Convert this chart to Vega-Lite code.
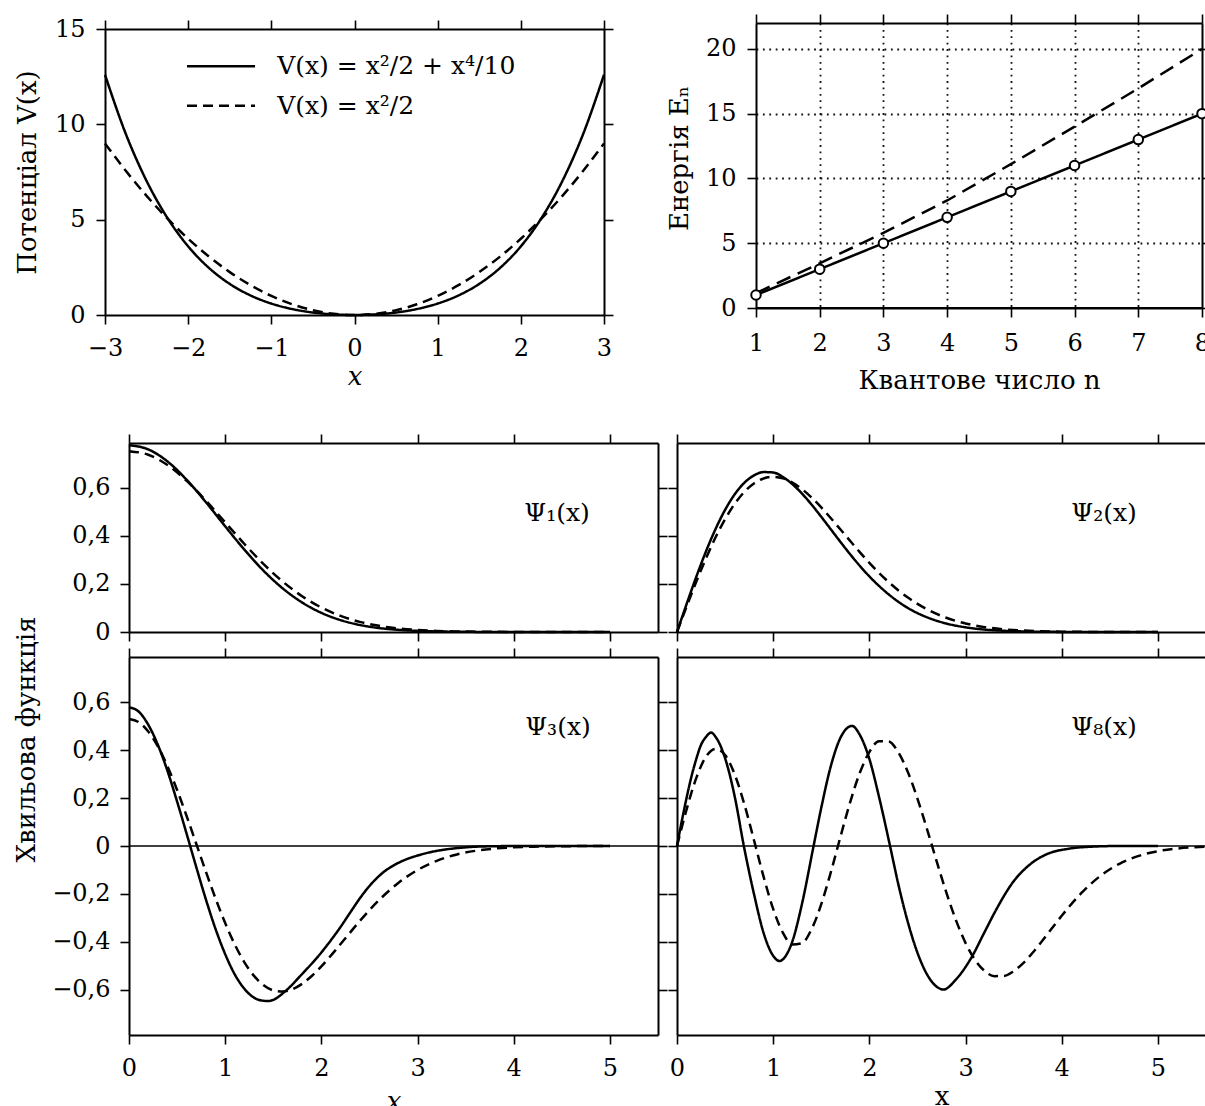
{
  "$schema": "https://vega.github.io/schema/vega-lite/v6.json",
  "padding": 0,
  "autosize": {"type": "pad"},
  "background": "white",
  "datasets": {
    "pot": [
      {"x": -3, "V": 12.6, "m": "a"}, {"x": -2.75, "V": 9.5004, "m": "a"}, {"x": -2.5, "V": 7.0313, "m": "a"}, {"x": -2.25, "V": 5.0941, "m": "a"}, {"x": -2, "V": 3.6, "m": "a"}, {"x": -1.75, "V": 2.4691, "m": "a"}, {"x": -1.5, "V": 1.6313, "m": "a"}, {"x": -1.25, "V": 1.0254, "m": "a"}, {"x": -1, "V": 0.6, "m": "a"}, {"x": -0.75, "V": 0.3129, "m": "a"}, {"x": -0.5, "V": 0.1313, "m": "a"}, {"x": -0.25, "V": 0.0316, "m": "a"}, {"x": 0, "V": 0, "m": "a"}, {"x": 0.25, "V": 0.0316, "m": "a"}, {"x": 0.5, "V": 0.1313, "m": "a"}, {"x": 0.75, "V": 0.3129, "m": "a"}, {"x": 1, "V": 0.6, "m": "a"}, {"x": 1.25, "V": 1.0254, "m": "a"}, {"x": 1.5, "V": 1.6313, "m": "a"}, {"x": 1.75, "V": 2.4691, "m": "a"}, {"x": 2, "V": 3.6, "m": "a"}, {"x": 2.25, "V": 5.0941, "m": "a"}, {"x": 2.5, "V": 7.0313, "m": "a"}, {"x": 2.75, "V": 9.5004, "m": "a"}, {"x": 3, "V": 12.6, "m": "a"},
      {"x": -3, "V": 9, "m": "h"}, {"x": -2.75, "V": 7.5625, "m": "h"}, {"x": -2.5, "V": 6.25, "m": "h"}, {"x": -2.25, "V": 5.0625, "m": "h"}, {"x": -2, "V": 4, "m": "h"}, {"x": -1.75, "V": 3.0625, "m": "h"}, {"x": -1.5, "V": 2.25, "m": "h"}, {"x": -1.25, "V": 1.5625, "m": "h"}, {"x": -1, "V": 1, "m": "h"}, {"x": -0.75, "V": 0.5625, "m": "h"}, {"x": -0.5, "V": 0.25, "m": "h"}, {"x": -0.25, "V": 0.0625, "m": "h"}, {"x": 0, "V": 0, "m": "h"}, {"x": 0.25, "V": 0.0625, "m": "h"}, {"x": 0.5, "V": 0.25, "m": "h"}, {"x": 0.75, "V": 0.5625, "m": "h"}, {"x": 1, "V": 1, "m": "h"}, {"x": 1.25, "V": 1.5625, "m": "h"}, {"x": 1.5, "V": 2.25, "m": "h"}, {"x": 1.75, "V": 3.0625, "m": "h"}, {"x": 2, "V": 4, "m": "h"}, {"x": 2.25, "V": 5.0625, "m": "h"}, {"x": 2.5, "V": 6.25, "m": "h"}, {"x": 2.75, "V": 7.5625, "m": "h"}, {"x": 3, "V": 9, "m": "h"}
    ],
    "energy": [
      {"n": 1, "E": 1, "m": "h"}, {"n": 2, "E": 3, "m": "h"}, {"n": 3, "E": 5, "m": "h"}, {"n": 4, "E": 7, "m": "h"}, {"n": 5, "E": 9, "m": "h"}, {"n": 6, "E": 11, "m": "h"}, {"n": 7, "E": 13, "m": "h"}, {"n": 8, "E": 15, "m": "h"},
      {"n": 1, "E": 1.15, "m": "a"}, {"n": 2, "E": 3.45, "m": "a"}, {"n": 3, "E": 5.8, "m": "a"}, {"n": 4, "E": 8.3, "m": "a"}, {"n": 5, "E": 11.1, "m": "a"}, {"n": 6, "E": 14.0, "m": "a"}, {"n": 7, "E": 16.95, "m": "a"}, {"n": 8, "E": 20, "m": "a"}
    ],
    "psi1": [
      {"x": 0, "y": 0.776, "m": "a"}, {"x": 0.2, "y": 0.7585, "m": "a"}, {"x": 0.4, "y": 0.7084, "m": "a"}, {"x": 0.6, "y": 0.6321, "m": "a"}, {"x": 0.8, "y": 0.5389, "m": "a"}, {"x": 1, "y": 0.4391, "m": "a"}, {"x": 1.2, "y": 0.3418, "m": "a"}, {"x": 1.4, "y": 0.2541, "m": "a"}, {"x": 1.6, "y": 0.1806, "m": "a"}, {"x": 1.8, "y": 0.1226, "m": "a"}, {"x": 2, "y": 0.0795, "m": "a"}, {"x": 2.2, "y": 0.0493, "m": "a"}, {"x": 2.4, "y": 0.0292, "m": "a"}, {"x": 2.6, "y": 0.0165, "m": "a"}, {"x": 2.8, "y": 0.0089, "m": "a"}, {"x": 3, "y": 0.0046, "m": "a"}, {"x": 3.2, "y": 0.0023, "m": "a"}, {"x": 3.4, "y": 0.0011, "m": "a"}, {"x": 3.6, "y": 0.0005, "m": "a"}, {"x": 4, "y": 0.0001, "m": "a"}, {"x": 4.5, "y": 0, "m": "a"}, {"x": 5, "y": 0, "m": "a"},
      {"x": 0, "y": 0.7511, "m": "h"}, {"x": 0.2, "y": 0.7362, "m": "h"}, {"x": 0.4, "y": 0.6934, "m": "h"}, {"x": 0.6, "y": 0.6274, "m": "h"}, {"x": 0.8, "y": 0.5454, "m": "h"}, {"x": 1, "y": 0.4556, "m": "h"}, {"x": 1.2, "y": 0.3656, "m": "h"}, {"x": 1.4, "y": 0.2819, "m": "h"}, {"x": 1.6, "y": 0.2088, "m": "h"}, {"x": 1.8, "y": 0.1486, "m": "h"}, {"x": 2, "y": 0.1016, "m": "h"}, {"x": 2.2, "y": 0.0668, "m": "h"}, {"x": 2.4, "y": 0.0422, "m": "h"}, {"x": 2.6, "y": 0.0256, "m": "h"}, {"x": 2.8, "y": 0.0149, "m": "h"}, {"x": 3, "y": 0.0083, "m": "h"}, {"x": 3.2, "y": 0.0045, "m": "h"}, {"x": 3.4, "y": 0.0023, "m": "h"}, {"x": 3.6, "y": 0.0012, "m": "h"}, {"x": 3.8, "y": 0.0006, "m": "h"}, {"x": 4, "y": 0.0003, "m": "h"}, {"x": 4.5, "y": 0, "m": "h"}, {"x": 5, "y": 0, "m": "h"}
    ],
    "psi2": [
      {"x": 0, "y": 0, "m": "a"}, {"x": 0.1, "y": 0.1163, "m": "a"}, {"x": 0.2, "y": 0.2287, "m": "a"}, {"x": 0.3, "y": 0.3334, "m": "a"}, {"x": 0.4, "y": 0.4271, "m": "a"}, {"x": 0.5, "y": 0.5073, "m": "a"}, {"x": 0.6, "y": 0.5719, "m": "a"}, {"x": 0.7, "y": 0.6196, "m": "a"}, {"x": 0.8, "y": 0.6503, "m": "a"}, {"x": 0.9, "y": 0.6642, "m": "a"}, {"x": 1, "y": 0.6625, "m": "a"}, {"x": 1.1, "y": 0.6441, "m": "a"}, {"x": 1.2, "y": 0.614, "m": "a"}, {"x": 1.3, "y": 0.5747, "m": "a"}, {"x": 1.4, "y": 0.5288, "m": "a"}, {"x": 1.5, "y": 0.4784, "m": "a"}, {"x": 1.6, "y": 0.4261, "m": "a"}, {"x": 1.7, "y": 0.3737, "m": "a"}, {"x": 1.8, "y": 0.323, "m": "a"}, {"x": 1.9, "y": 0.275, "m": "a"}, {"x": 2, "y": 0.2311, "m": "a"}, {"x": 2.2, "y": 0.1565, "m": "a"}, {"x": 2.4, "y": 0.0998, "m": "a"}, {"x": 2.6, "y": 0.061, "m": "a"}, {"x": 2.8, "y": 0.0353, "m": "a"}, {"x": 3, "y": 0.0194, "m": "a"}, {"x": 3.2, "y": 0.0101, "m": "a"}, {"x": 3.4, "y": 0.0051, "m": "a"}, {"x": 3.6, "y": 0.0024, "m": "a"}, {"x": 3.8, "y": 0.0011, "m": "a"}, {"x": 4, "y": 0.0004, "m": "a"}, {"x": 4.5, "y": 0, "m": "a"}, {"x": 5, "y": 0, "m": "a"},
      {"x": 0, "y": 0, "m": "h"}, {"x": 0.1, "y": 0.1057, "m": "h"}, {"x": 0.2, "y": 0.2083, "m": "h"}, {"x": 0.3, "y": 0.3047, "m": "h"}, {"x": 0.4, "y": 0.3922, "m": "h"}, {"x": 0.5, "y": 0.4688, "m": "h"}, {"x": 0.6, "y": 0.5324, "m": "h"}, {"x": 0.7, "y": 0.582, "m": "h"}, {"x": 0.8, "y": 0.6171, "m": "h"}, {"x": 0.9, "y": 0.6377, "m": "h"}, {"x": 1, "y": 0.6443, "m": "h"}, {"x": 1.1, "y": 0.6381, "m": "h"}, {"x": 1.2, "y": 0.6206, "m": "h"}, {"x": 1.3, "y": 0.5933, "m": "h"}, {"x": 1.4, "y": 0.5582, "m": "h"}, {"x": 1.5, "y": 0.5174, "m": "h"}, {"x": 1.6, "y": 0.4725, "m": "h"}, {"x": 1.7, "y": 0.4257, "m": "h"}, {"x": 1.8, "y": 0.3784, "m": "h"}, {"x": 1.9, "y": 0.332, "m": "h"}, {"x": 2, "y": 0.2875, "m": "h"}, {"x": 2.2, "y": 0.2078, "m": "h"}, {"x": 2.4, "y": 0.1431, "m": "h"}, {"x": 2.6, "y": 0.094, "m": "h"}, {"x": 2.8, "y": 0.059, "m": "h"}, {"x": 3, "y": 0.0354, "m": "h"}, {"x": 3.2, "y": 0.0203, "m": "h"}, {"x": 3.4, "y": 0.0112, "m": "h"}, {"x": 3.6, "y": 0.0059, "m": "h"}, {"x": 3.8, "y": 0.0029, "m": "h"}, {"x": 4, "y": 0.0014, "m": "h"}, {"x": 4.5, "y": 0.0002, "m": "h"}, {"x": 5, "y": 0, "m": "h"}
    ],
    "psi3": [
      {"x": 0, "y": 0.58, "m": "a"}, {"x": 0.1, "y": 0.562, "m": "a"}, {"x": 0.2, "y": 0.507, "m": "a"}, {"x": 0.3, "y": 0.423, "m": "a"}, {"x": 0.4, "y": 0.314, "m": "a"}, {"x": 0.5, "y": 0.186, "m": "a"}, {"x": 0.6, "y": 0.05, "m": "a"}, {"x": 0.7, "y": -0.089, "m": "a"}, {"x": 0.8, "y": -0.224, "m": "a"}, {"x": 0.9, "y": -0.347, "m": "a"}, {"x": 1, "y": -0.452, "m": "a"}, {"x": 1.1, "y": -0.537, "m": "a"}, {"x": 1.2, "y": -0.597, "m": "a"}, {"x": 1.3, "y": -0.634, "m": "a"}, {"x": 1.4, "y": -0.647, "m": "a"}, {"x": 1.45, "y": -0.648, "m": "a"}, {"x": 1.5, "y": -0.643, "m": "a"}, {"x": 1.63, "y": -0.605, "m": "a"}, {"x": 1.8, "y": -0.535, "m": "a"}, {"x": 2, "y": -0.445, "m": "a"}, {"x": 2.08, "y": -0.404, "m": "a"}, {"x": 2.2, "y": -0.338, "m": "a"}, {"x": 2.3, "y": -0.278, "m": "a"}, {"x": 2.425, "y": -0.205, "m": "a"}, {"x": 2.55, "y": -0.145, "m": "a"}, {"x": 2.65, "y": -0.108, "m": "a"}, {"x": 2.77, "y": -0.077, "m": "a"}, {"x": 2.9, "y": -0.053, "m": "a"}, {"x": 3, "y": -0.04, "m": "a"}, {"x": 3.12, "y": -0.027, "m": "a"}, {"x": 3.3, "y": -0.014, "m": "a"}, {"x": 3.43, "y": -0.008, "m": "a"}, {"x": 3.6, "y": -0.003, "m": "a"}, {"x": 3.8, "y": -0.001, "m": "a"}, {"x": 4, "y": 0, "m": "a"}, {"x": 5, "y": 0, "m": "a"},
      {"x": 0, "y": 0.5311, "m": "h"}, {"x": 0.1, "y": 0.5179, "m": "h"}, {"x": 0.2, "y": 0.4789, "m": "h"}, {"x": 0.3, "y": 0.4163, "m": "h"}, {"x": 0.4, "y": 0.3334, "m": "h"}, {"x": 0.5, "y": 0.2343, "m": "h"}, {"x": 0.6, "y": 0.1242, "m": "h"}, {"x": 0.7, "y": 0.0083, "m": "h"}, {"x": 0.8, "y": -0.108, "m": "h"}, {"x": 0.9, "y": -0.2196, "m": "h"}, {"x": 1, "y": -0.3221, "m": "h"}, {"x": 1.1, "y": -0.4119, "m": "h"}, {"x": 1.2, "y": -0.4861, "m": "h"}, {"x": 1.3, "y": -0.543, "m": "h"}, {"x": 1.4, "y": -0.582, "m": "h"}, {"x": 1.5, "y": -0.6036, "m": "h"}, {"x": 1.6, "y": -0.6083, "m": "h"}, {"x": 1.7, "y": -0.5984, "m": "h"}, {"x": 1.8, "y": -0.576, "m": "h"}, {"x": 1.9, "y": -0.5434, "m": "h"}, {"x": 2, "y": -0.503, "m": "h"}, {"x": 2.2, "y": -0.4098, "m": "h"}, {"x": 2.4, "y": -0.3134, "m": "h"}, {"x": 2.6, "y": -0.2261, "m": "h"}, {"x": 2.8, "y": -0.1544, "m": "h"}, {"x": 3, "y": -0.1003, "m": "h"}, {"x": 3.2, "y": -0.0619, "m": "h"}, {"x": 3.4, "y": -0.0363, "m": "h"}, {"x": 3.6, "y": -0.0203, "m": "h"}, {"x": 3.8, "y": -0.0108, "m": "h"}, {"x": 4, "y": -0.0055, "m": "h"}, {"x": 4.2, "y": -0.0027, "m": "h"}, {"x": 4.5, "y": -0.0008, "m": "h"}, {"x": 5, "y": -0.0001, "m": "h"}
    ],
    "psi8": [
      {"x": 0, "y": 0, "m": "a"}, {"x": 0.05, "y": 0.105, "m": "a"}, {"x": 0.1, "y": 0.202, "m": "a"}, {"x": 0.15, "y": 0.29, "m": "a"}, {"x": 0.2, "y": 0.363, "m": "a"}, {"x": 0.25, "y": 0.423, "m": "a"}, {"x": 0.3, "y": 0.455, "m": "a"}, {"x": 0.355, "y": 0.474, "m": "a"}, {"x": 0.4, "y": 0.457, "m": "a"}, {"x": 0.5, "y": 0.367, "m": "a"}, {"x": 0.6, "y": 0.207, "m": "a"}, {"x": 0.695, "y": 0, "m": "a"}, {"x": 0.8, "y": -0.2, "m": "a"}, {"x": 0.9, "y": -0.363, "m": "a"}, {"x": 1, "y": -0.459, "m": "a"}, {"x": 1.07, "y": -0.481, "m": "a"}, {"x": 1.1, "y": -0.474, "m": "a"}, {"x": 1.2, "y": -0.398, "m": "a"}, {"x": 1.3, "y": -0.241, "m": "a"}, {"x": 1.42, "y": 0, "m": "a"}, {"x": 1.5, "y": 0.16, "m": "a"}, {"x": 1.6, "y": 0.335, "m": "a"}, {"x": 1.7, "y": 0.453, "m": "a"}, {"x": 1.82, "y": 0.502, "m": "a"}, {"x": 1.9, "y": 0.465, "m": "a"}, {"x": 2, "y": 0.364, "m": "a"}, {"x": 2.1, "y": 0.206, "m": "a"}, {"x": 2.215, "y": 0, "m": "a"}, {"x": 2.3, "y": -0.158, "m": "a"}, {"x": 2.4, "y": -0.318, "m": "a"}, {"x": 2.5, "y": -0.446, "m": "a"}, {"x": 2.6, "y": -0.537, "m": "a"}, {"x": 2.7, "y": -0.588, "m": "a"}, {"x": 2.77, "y": -0.6, "m": "a"}, {"x": 2.9, "y": -0.558, "m": "a"}, {"x": 3.06, "y": -0.467, "m": "a"}, {"x": 3.2, "y": -0.358, "m": "a"}, {"x": 3.32, "y": -0.265, "m": "a"}, {"x": 3.49, "y": -0.153, "m": "a"}, {"x": 3.67, "y": -0.077, "m": "a"}, {"x": 3.84, "y": -0.035, "m": "a"}, {"x": 4.08, "y": -0.011, "m": "a"}, {"x": 4.3, "y": -0.003, "m": "a"}, {"x": 4.6, "y": 0, "m": "a"}, {"x": 5, "y": 0, "m": "a"},
      {"x": 0, "y": 0, "m": "h"}, {"x": 0.1, "y": 0.1532, "m": "h"}, {"x": 0.2, "y": 0.2837, "m": "h"}, {"x": 0.3, "y": 0.3723, "m": "h"}, {"x": 0.4, "y": 0.4061, "m": "h"}, {"x": 0.5, "y": 0.3804, "m": "h"}, {"x": 0.6, "y": 0.2992, "m": "h"}, {"x": 0.7, "y": 0.1748, "m": "h"}, {"x": 0.8, "y": 0.0253, "m": "h"}, {"x": 0.9, "y": -0.1279, "m": "h"}, {"x": 1, "y": -0.2631, "m": "h"}, {"x": 1.1, "y": -0.3621, "m": "h"}, {"x": 1.2, "y": -0.4117, "m": "h"}, {"x": 1.3, "y": -0.4061, "m": "h"}, {"x": 1.4, "y": -0.347, "m": "h"}, {"x": 1.5, "y": -0.2432, "m": "h"}, {"x": 1.6, "y": -0.1086, "m": "h"}, {"x": 1.7, "y": 0.0394, "m": "h"}, {"x": 1.8, "y": 0.1828, "m": "h"}, {"x": 1.9, "y": 0.305, "m": "h"}, {"x": 2, "y": 0.3928, "m": "h"}, {"x": 2.1, "y": 0.438, "m": "h"}, {"x": 2.2, "y": 0.437, "m": "h"}, {"x": 2.3, "y": 0.3921, "m": "h"}, {"x": 2.4, "y": 0.3093, "m": "h"}, {"x": 2.5, "y": 0.1982, "m": "h"}, {"x": 2.6, "y": 0.0698, "m": "h"}, {"x": 2.7, "y": -0.0645, "m": "h"}, {"x": 2.8, "y": -0.194, "m": "h"}, {"x": 2.9, "y": -0.3097, "m": "h"}, {"x": 3, "y": -0.4053, "m": "h"}, {"x": 3.1, "y": -0.4767, "m": "h"}, {"x": 3.2, "y": -0.5228, "m": "h"}, {"x": 3.3, "y": -0.544, "m": "h"}, {"x": 3.4, "y": -0.543, "m": "h"}, {"x": 3.5, "y": -0.5231, "m": "h"}, {"x": 3.6, "y": -0.4893, "m": "h"}, {"x": 3.7, "y": -0.4452, "m": "h"}, {"x": 3.8, "y": -0.3953, "m": "h"}, {"x": 3.9, "y": -0.343, "m": "h"}, {"x": 4, "y": -0.2915, "m": "h"}, {"x": 4.2, "y": -0.1985, "m": "h"}, {"x": 4.4, "y": -0.1256, "m": "h"}, {"x": 4.6, "y": -0.0743, "m": "h"}, {"x": 4.8, "y": -0.0414, "m": "h"}, {"x": 5, "y": -0.0216, "m": "h"}, {"x": 5.2, "y": -0.0107, "m": "h"}, {"x": 5.5, "y": -0.0033, "m": "h"}
    ]
  },
  "vconcat": [
    {"width": 1, "height": 23, "data": {"values": []}, "mark": "point"},
    {
      "hconcat": [
        {"width": 105, "height": 1, "data": {"values": []}, "mark": "point"},
        {
          "vconcat": [
            {"width": 1, "height": 6, "data": {"values": []}, "mark": "point"},
            {
              "width": 499, "height": 286,
              "layer": [
                {
                  "data": {"name": "pot"},
                  "mark": {"type": "line", "interpolate": "monotone", "strokeWidth": 2.5, "color": "black"},
                  "encoding": {
                    "x": {"field": "x", "type": "quantitative", "scale": {"domain": [-3, 3], "nice": false, "zero": false},
                          "axis": {"orient": "bottom", "values": [-3, -2, -1, 0, 1, 2, 3], "labelPadding": 12, "title": "x", "titleFontStyle": "italic", "titleY": 69, "titleBaseline": "alphabetic"}},
                    "y": {"field": "V", "type": "quantitative", "scale": {"domain": [0, 15], "nice": false},
                          "axis": {"orient": "left", "values": [0, 5, 10, 15], "labelPadding": 11, "title": "Потенціал  V(x)", "titleX": -78, "titleY": 143, "titleBaseline": "middle"}},
                    "strokeDash": {"field": "m", "type": "nominal", "scale": {"domain": ["a", "h"], "range": [[1, 0], [10, 6]]}, "legend": null}
                  }
                },
                {
                  "data": {"values": [{"m": "a"}]},
                  "mark": {"type": "rule", "strokeWidth": 2.5, "color": "black"},
                  "encoding": {
                    "x": {"datum": -2.014, "type": "quantitative", "axis": {"orient": "top", "values": [-3, -2, -1, 0, 1, 2, 3], "labels": false, "title": null}},
                    "x2": {"datum": -1.196},
                    "y": {"datum": 13.04, "type": "quantitative", "axis": {"orient": "right", "values": [0, 5, 10, 15], "labels": false, "title": null}},
                    "strokeDash": {"field": "m", "type": "nominal", "scale": {"domain": ["a", "h"], "range": [[1, 0], [10, 6]]}, "legend": null}
                  }
                },
                {
                  "data": {"values": [{"m": "h"}]},
                  "mark": {"type": "rule", "strokeWidth": 2.5, "color": "black"},
                  "encoding": {
                    "x": {"datum": -2.014, "type": "quantitative", "axis": null},
                    "x2": {"datum": -1.196},
                    "y": {"datum": 10.98, "type": "quantitative", "axis": null},
                    "strokeDash": {"field": "m", "type": "nominal", "scale": {"domain": ["a", "h"], "range": [[1, 0], [10, 6]]}, "legend": null}
                  }
                },
                {
                  "data": {"values": [{"label": "V(x) = x²/2 + x⁴/10"}]},
                  "mark": {"type": "text", "align": "left", "baseline": "middle", "fontSize": 25},
                  "encoding": {
                    "x": {"datum": -0.93, "type": "quantitative", "axis": null},
                    "y": {"datum": 13.04, "type": "quantitative", "axis": null},
                    "text": {"field": "label"}
                  }
                },
                {
                  "data": {"values": [{"label": "V(x) = x²/2"}]},
                  "mark": {"type": "text", "align": "left", "baseline": "middle", "fontSize": 25},
                  "encoding": {
                    "x": {"datum": -0.93, "type": "quantitative", "axis": null},
                    "y": {"datum": 10.98, "type": "quantitative", "axis": null},
                    "text": {"field": "label"}
                  }
                }
              ],
              "resolve": {"axis": {"x": "independent", "y": "independent"}}
            }
          ],
          "spacing": 0,
          "bounds": "flush",
          "resolve": {"scale": {"strokeDash": "independent"}}
        },
        {"width": 651, "height": 1, "data": {"values": []}, "mark": "point"},
        {
          "width": 446, "height": 285,
          "layer": [
            {
              "data": {"values": [{"level": 0}]},
              "mark": {"type": "rule", "strokeWidth": 2, "color": "black"},
              "encoding": {
                "y": {"field": "level", "type": "quantitative", "axis": null}
              }
            },
            {
              "data": {"name": "energy"},
              "mark": {"type": "line", "strokeWidth": 2.5, "color": "black"},
              "encoding": {
                "x": {"field": "n", "type": "quantitative", "scale": {"domain": [1, 8], "nice": false, "zero": false},
                      "axis": {"orient": "bottom", "values": [1, 2, 3, 4, 5, 6, 7, 8], "labelPadding": 14, "grid": true, "gridDash": [1.8, 4.6], "gridColor": "#111111", "gridWidth": 1.8, "gridOpacity": {"condition": {"test": "datum.value == 1 || datum.value == 8", "value": 0}, "value": 1}, "domain": true, "title": "Квантове число n", "titleY": 80, "titleBaseline": "alphabetic"}},
                "y": {"field": "E", "type": "quantitative", "scale": {"domain": [0, 22], "nice": false},
                      "axis": {"orient": "left", "values": [0, 5, 10, 15, 20], "labelPadding": 11, "grid": true, "gridDash": [1.8, 4.6], "gridColor": "#111111", "gridWidth": 1.8, "gridOpacity": {"condition": {"test": "datum.value == 0", "value": 0}, "value": 1}, "domain": true, "title": "Енергія  Eₙ", "titleX": -77, "titleY": 135, "titleBaseline": "middle"}},
                "strokeDash": {"field": "m", "type": "nominal", "scale": {"domain": ["h", "a"], "range": [[1, 0], [15, 8]]}, "legend": null}
              }
            },
            {
              "data": {"name": "energy"},
              "transform": [{"filter": "datum.m == 'h'"}],
              "mark": {"type": "point", "shape": "circle", "filled": true, "fill": "white", "stroke": "black", "strokeWidth": 2, "size": 90, "opacity": 1},
              "encoding": {
                "x": {"field": "n", "type": "quantitative", "axis": {"orient": "top", "values": [1, 2, 3, 4, 5, 6, 7, 8], "labels": false, "title": null}},
                "y": {"field": "E", "type": "quantitative", "axis": {"orient": "right", "values": [0, 5, 10, 15, 20], "labels": false, "title": null}}
              }
            }
          ],
          "resolve": {"axis": {"x": "independent", "y": "independent"}}
        }
      ],
      "spacing": 0,
      "bounds": "flush",
      "resolve": {"scale": {"strokeDash": "independent"}}
    },
    {"width": 1, "height": 420, "data": {"values": []}, "mark": "point"},
    {
      "concat": [
        {"width": 129, "height": 1, "data": {"values": []}, "mark": "point"},
        {
          "width": 529, "height": 189,
          "layer": [
            {
              "data": {"name": "psi1"},
              "mark": {"type": "line", "interpolate": "monotone", "strokeWidth": 2.5, "color": "black"},
              "encoding": {
                "x": {"field": "x", "type": "quantitative", "scale": {"domain": [0, 5.5], "nice": false}, "axis": {"orient": "bottom", "values": [0, 1, 2, 3, 4, 5], "labels": false, "title": null}},
                "y": {"field": "y", "type": "quantitative", "scale": {"domain": [0, 0.785], "nice": false}, "axis": {"orient": "left", "values": [0, 0.2, 0.4, 0.6], "format": ".1~f", "labelExpr": "replace(datum.label, '.', ',')", "labelPadding": 10, "title": null}},
                "strokeDash": {"field": "m", "type": "nominal", "scale": {"domain": ["a", "h"], "range": [[1, 0], [10, 6]]}, "legend": null}
              }
            },
            {
              "data": {"values": [{"label": "Ψ₁(x)"}]},
              "mark": {"type": "text", "align": "center", "baseline": "middle", "fontSize": 25},
              "encoding": {
                "x": {"datum": 4.45, "type": "quantitative", "axis": {"orient": "top", "values": [0, 1, 2, 3, 4, 5], "labels": false, "title": null}},
                "y": {"datum": 0.494, "type": "quantitative", "axis": {"orient": "right", "values": [0, 0.2, 0.4, 0.6], "labels": false, "title": null}},
                "text": {"field": "label"}
              }
            }
          ],
          "resolve": {"axis": {"x": "independent", "y": "independent"}}
        },
        {"width": 19, "height": 1, "data": {"values": []}, "mark": "point"},
        {
          "width": 529, "height": 189,
          "layer": [
            {
              "data": {"name": "psi2"},
              "mark": {"type": "line", "interpolate": "monotone", "strokeWidth": 2.5, "color": "black"},
              "encoding": {
                "x": {"field": "x", "type": "quantitative", "scale": {"domain": [0, 5.5], "nice": false}, "axis": {"orient": "bottom", "values": [0, 1, 2, 3, 4, 5], "labels": false, "title": null}},
                "y": {"field": "y", "type": "quantitative", "scale": {"domain": [0, 0.785], "nice": false}, "axis": {"orient": "left", "values": [0, 0.2, 0.4, 0.6], "labels": false, "title": null}},
                "strokeDash": {"field": "m", "type": "nominal", "scale": {"domain": ["a", "h"], "range": [[1, 0], [10, 6]]}, "legend": null}
              }
            },
            {
              "data": {"values": [{"label": "Ψ₂(x)"}]},
              "mark": {"type": "text", "align": "center", "baseline": "middle", "fontSize": 25},
              "encoding": {
                "x": {"datum": 4.44, "type": "quantitative", "axis": {"orient": "top", "values": [0, 1, 2, 3, 4, 5], "labels": false, "title": null}},
                "y": {"datum": 0.494, "type": "quantitative", "axis": {"orient": "right", "values": [0, 0.2, 0.4, 0.6], "labels": false, "title": null}},
                "text": {"field": "label"}
              }
            }
          ],
          "resolve": {"axis": {"x": "independent", "y": "independent"}}
        },
        {"width": 129, "height": 1, "data": {"values": []}, "mark": "point"},
        {
          "width": 529, "height": 378,
          "layer": [
            {
              "data": {"values": [{"level": 0}]},
              "mark": {"type": "rule", "strokeWidth": 1.4, "color": "black"},
              "encoding": {
                "y": {"field": "level", "type": "quantitative", "axis": null}
              }
            },
            {
              "data": {"name": "psi3"},
              "mark": {"type": "line", "interpolate": "monotone", "strokeWidth": 2.5, "color": "black"},
              "encoding": {
                "x": {"field": "x", "type": "quantitative", "scale": {"domain": [0, 5.5], "nice": false}, "axis": {"orient": "bottom", "values": [0, 1, 2, 3, 4, 5], "labelPadding": 12, "title": "x", "titleFontStyle": "italic", "titleY": 74, "titleBaseline": "alphabetic"}},
                "y": {"field": "y", "type": "quantitative", "scale": {"domain": [-0.79, 0.79], "nice": false}, "axis": {"orient": "left", "values": [-0.6, -0.4, -0.2, 0, 0.2, 0.4, 0.6], "format": ".1~f", "labelExpr": "replace(datum.label, '.', ',')", "labelPadding": 10, "title": "Хвильова функція", "titleX": -103, "titleY": 82, "titleBaseline": "middle"}},
                "strokeDash": {"field": "m", "type": "nominal", "scale": {"domain": ["a", "h"], "range": [[1, 0], [10, 6]]}, "legend": null}
              }
            },
            {
              "data": {"values": [{"label": "Ψ₃(x)"}]},
              "mark": {"type": "text", "align": "center", "baseline": "middle", "fontSize": 25},
              "encoding": {
                "x": {"datum": 4.46, "type": "quantitative", "axis": {"orient": "top", "values": [0, 1, 2, 3, 4, 5], "labels": false, "title": null}},
                "y": {"datum": 0.497, "type": "quantitative", "axis": {"orient": "right", "values": [-0.6, -0.4, -0.2, 0, 0.2, 0.4, 0.6], "labels": false, "title": null}},
                "text": {"field": "label"}
              }
            }
          ],
          "resolve": {"axis": {"x": "independent", "y": "independent"}}
        },
        {"width": 19, "height": 1, "data": {"values": []}, "mark": "point"},
        {
          "width": 529, "height": 378,
          "layer": [
            {
              "data": {"values": [{"level": 0}]},
              "mark": {"type": "rule", "strokeWidth": 1.4, "color": "black"},
              "encoding": {
                "y": {"field": "level", "type": "quantitative", "axis": null}
              }
            },
            {
              "data": {"name": "psi8"},
              "mark": {"type": "line", "interpolate": "monotone", "strokeWidth": 2.5, "color": "black"},
              "encoding": {
                "x": {"field": "x", "type": "quantitative", "scale": {"domain": [0, 5.5], "nice": false}, "axis": {"orient": "bottom", "values": [0, 1, 2, 3, 4, 5], "labelPadding": 12, "title": "x", "titleY": 69, "titleBaseline": "alphabetic"}},
                "y": {"field": "y", "type": "quantitative", "scale": {"domain": [-0.79, 0.79], "nice": false}, "axis": {"orient": "left", "values": [-0.6, -0.4, -0.2, 0, 0.2, 0.4, 0.6], "labels": false, "title": null}},
                "strokeDash": {"field": "m", "type": "nominal", "scale": {"domain": ["a", "h"], "range": [[1, 0], [10, 6]]}, "legend": null}
              }
            },
            {
              "data": {"values": [{"label": "Ψ₈(x)"}]},
              "mark": {"type": "text", "align": "center", "baseline": "middle", "fontSize": 25},
              "encoding": {
                "x": {"datum": 4.44, "type": "quantitative", "axis": {"orient": "top", "values": [0, 1, 2, 3, 4, 5], "labels": false, "title": null}},
                "y": {"datum": 0.497, "type": "quantitative", "axis": {"orient": "right", "values": [-0.6, -0.4, -0.2, 0, 0.2, 0.4, 0.6], "labels": false, "title": null}},
                "text": {"field": "label"}
              }
            }
          ],
          "resolve": {"axis": {"x": "independent", "y": "independent"}}
        }
      ],
      "columns": 4,
      "spacing": {"row": 25, "column": 0},
      "bounds": "flush",
      "resolve": {"scale": {"strokeDash": "independent"}}
    }
  ],
  "spacing": 0,
  "bounds": "flush",
  "resolve": {"scale": {"strokeDash": "independent"}},
  "config": {
    "font": "DejaVu Serif",
    "view": {"stroke": null},
    "axis": {
      "domainColor": "black", "domainWidth": 2,
      "tickColor": "black", "tickWidth": 1.6, "tickSize": 9,
      "labelFont": "DejaVu Serif", "labelFontSize": 24, "labelColor": "black", "labelFlush": false, "labelOverlap": false,
      "titleFont": "DejaVu Serif", "titleFontSize": 26, "titleFontWeight": "normal", "titleColor": "black",
      "grid": false
    },
    "text": {"font": "DejaVu Serif", "fontSize": 25, "color": "black"}
  }
}
